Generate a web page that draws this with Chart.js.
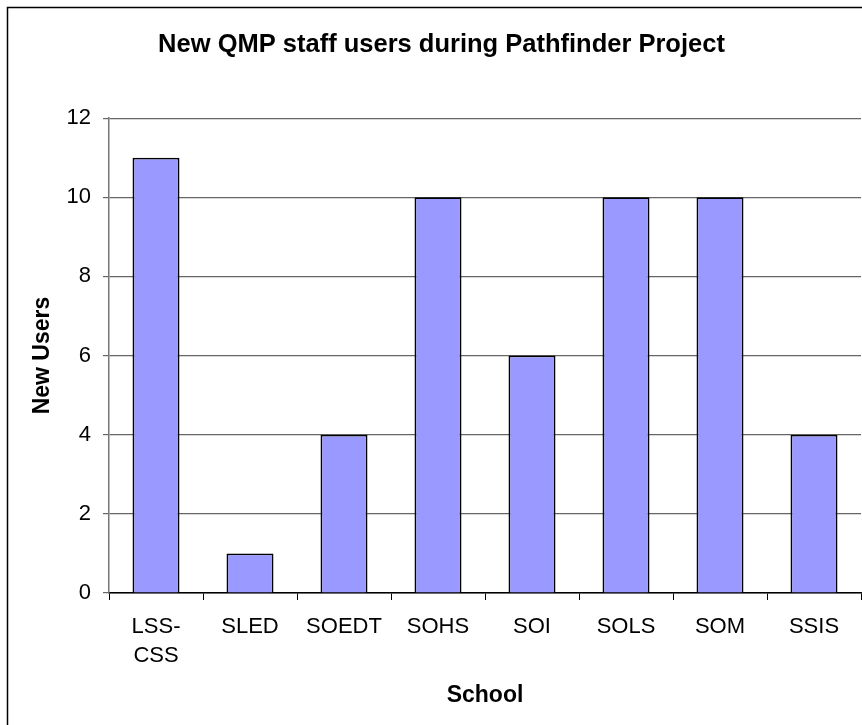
<!DOCTYPE html>
<html lang="en">
<head>
<meta charset="UTF-8">
<title>New QMP staff users during Pathfinder Project</title>
<style>
  html, body { margin: 0; padding: 0; background: #fff; }
  #wrap { width: 862px; height: 725px; }
</style>
</head>
<body>
<div id="wrap"><canvas id="myChart" width="862" height="725"></canvas></div>

<script src="https://cdn.jsdelivr.net/npm/chart.js@4.4.0/dist/chart.umd.min.js"></script>
<script>
// chart data
var schools = [['LSS-', 'CSS'], 'SLED', 'SOEDT', 'SOHS', 'SOI', 'SOLS', 'SOM', 'SSIS'];
var newUsers = [11, 1, 4, 10, 6, 10, 10, 4];
var yTicks = [0, 2, 4, 6, 8, 10, 12];

var FONT = "'Liberation Sans', Arial, Helvetica, sans-serif";

// frame around the chart (only top and left edges are visible in the picture)
var framePlugin = {
    id: 'frame',
    afterDraw: function(chart) {
        var c = chart.ctx;
        c.save();
        c.strokeStyle = '#000';
        c.lineWidth = 1.5;
        c.beginPath();
        c.moveTo(7.5, chart.height);
        c.lineTo(7.5, 7.5);
        c.lineTo(chart.width, 7.5);
        c.stroke();
        c.restore();
    }
};

const ctx = document.getElementById('myChart').getContext('2d');
const myChart = new Chart(ctx, {
    type: 'bar',
    data: {
        labels: schools,
        datasets: [{
            label: 'New Users',
            data: newUsers,
            backgroundColor: '#9999FF',
            borderColor: '#000',
            borderWidth: 1.8,
            barPercentage: 0.5,
            categoryPercentage: 1.0
        }]
    },
    options: {
        responsive: false,
        animation: false,
        layout: { padding: { left: 22, right: 1, top: 0, bottom: 0 } },
        plugins: {
            legend: { display: false },
            tooltip: { enabled: false },
            title: {
                display: true,
                text: 'New QMP staff users during Pathfinder Project',
                color: '#000',
                font: { family: FONT, size: 25.5, weight: 'bold', lineHeight: 1.2 },
                padding: { top: 29.5, bottom: 58 }
            }
        },
        scales: {
            x: {
                offset: true,
                grid: {
                    offset: true,
                    drawOnChartArea: false,
                    drawTicks: true,
                    tickLength: 7,
                    color: '#000'
                },
                border: { color: '#000', width: 1.5 },
                ticks: {
                    color: '#000',
                    font: { family: FONT, size: 22, lineHeight: 1.3 },
                    padding: 13,
                    maxRotation: 0,
                    autoSkip: false
                },
                title: {
                    display: true,
                    text: 'School',
                    color: '#000',
                    font: { family: FONT, size: 23, weight: 'bold', lineHeight: 1.2 },
                    padding: { top: 0, bottom: 16 }
                },
                afterFit: function(scale) { scale.height = 132; }
            },
            y: {
                min: 0,
                max: 12,
                afterBuildTicks: function(scale) {
                    scale.ticks = yTicks.map(function(v) { return { value: v }; });
                },
                grid: {
                    color: '#666',
                    lineWidth: 1.2,
                    tickLength: 6
                },
                border: { color: '#777', width: 1.5 },
                ticks: {
                    color: '#000',
                    font: { family: FONT, size: 22 },
                    padding: 12
                },
                title: {
                    display: true,
                    text: 'New Users',
                    color: '#000',
                    font: { family: FONT, size: 23, weight: 'bold', lineHeight: 1.2 },
                    padding: { top: 7, bottom: 0 }
                },
                afterFit: function(scale) { scale.width = 87; }
            }
        }
    },
    plugins: [framePlugin]
});
</script>
</body>
</html>
